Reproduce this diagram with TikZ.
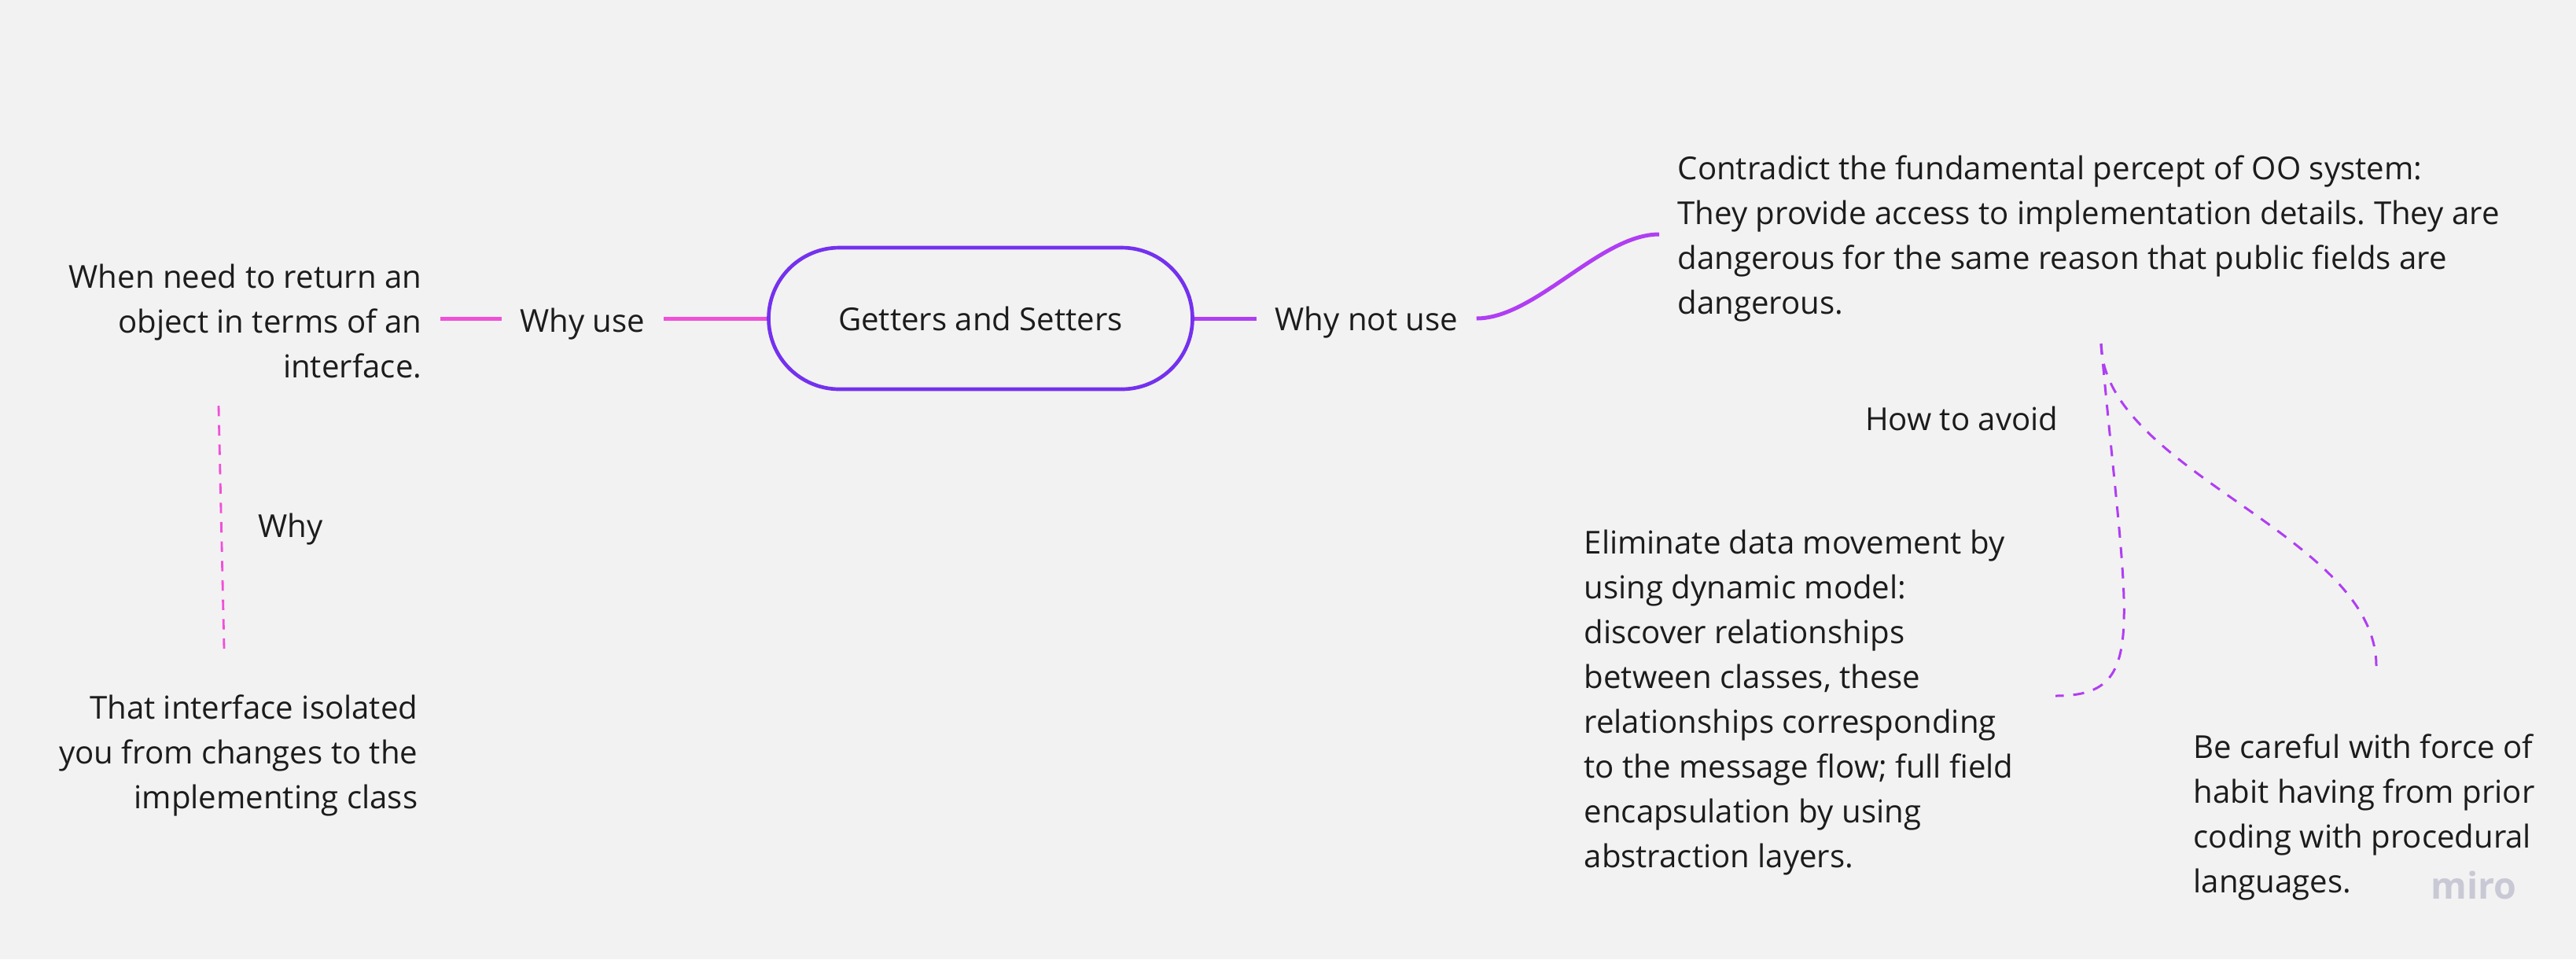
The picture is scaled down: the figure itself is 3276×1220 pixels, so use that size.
\documentclass[tikz,border=0pt]{standalone}
\usepackage{fontspec}
\setmainfont{Open Sans}
\frenchspacing
\definecolor{bg}{HTML}{F2F2F2}
\definecolor{ink}{HTML}{1C1C1C}
\definecolor{capc}{HTML}{7431EE}
\definecolor{pinkc}{HTML}{F050D8}
\definecolor{violc}{HTML}{B03EF2}
\definecolor{miroc}{HTML}{C9C9D6}
\begin{document}
\begin{tikzpicture}[x=0.3pt,y=-0.3pt,
  txt/.style={font=\fontsize{12.05}{17.1}\selectfont, text=ink, inner ysep=0pt, inner xsep=6.9pt},
  capsule/.style={draw=capc, line width=1.4pt, rounded corners=27pt, minimum width=161.7pt, minimum height=54pt, inner sep=0pt, font=\fontsize{12.05}{17.1}\selectfont, text=ink},
  pinkline/.style={draw=pinkc, line width=1.5pt},
  violline/.style={draw=violc, line width=1.5pt},
  pinkdash/.style={draw=pinkc, line width=0.85pt, dash pattern=on 4pt off 3.4pt},
  violdash/.style={draw=violc, line width=0.9pt, dash pattern=on 4.2pt off 3.6pt}]
\fill[bg] (0,0) rectangle (3276,1220);
\useasboundingbox (0,0) rectangle (3276,1220);

\node[capsule] (gs) at (1247,405) {\raisebox{-1.5pt}{Getters and Setters}};

\node[txt, anchor=east] (whyuse) at (844,412) {Why use};
\node[txt, anchor=east, align=right] (ret) at (560,409) {When need to return an\\object in terms of an\\interface.};
\draw[pinkline] (gs.west) -- (gs.west -| whyuse.east);
\draw[pinkline] (gs.west -| whyuse.west) -- (gs.west -| ret.east);

\coordinate (w0) at (278,516);
\coordinate (w1) at (285,825);
\draw[pinkdash] (w0) -- (w1);
\node[txt, anchor=west] (why) at (305,673) {Why};
\node[txt, anchor=east, align=right] (iso) at (555,961) {That interface isolated\\you from changes to the\\implementing class};

\node[txt, anchor=west] (whynot) at (1598,410) {Why not use};
\draw[violline] (gs.east) -- (gs.east -| whynot.west);
\node[txt, anchor=west, align=left] (contra) at (2110,303) {Contradict the fundamental percept of OO system:\\They provide access to implementation details. They are\\dangerous for the same reason that public fields are\\dangerous.};
\draw[violline] (gs.east -| whynot.east) .. controls +(75,0) and +(-75,0) .. ([yshift=1.5pt]contra.west);

\node[txt, anchor=east] (how) at (2641,532) {How to avoid};
\node[txt, anchor=west, align=left] (elim) at (1991,894) {Eliminate data movement by\\using dynamic model:\\discover relationships\\between classes, these\\relationships corresponding\\to the message flow; full field\\encapsulation by using\\abstraction layers.};
\node[txt, anchor=west, align=left] (care) at (2766,1039) {Be careful with force of\\habit having from prior\\coding with procedural\\languages.};

\coordinate (h0) at (2672,437);
\coordinate (h1) at (2614,885);
\coordinate (h2) at (3022,847);
\draw[violdash] (h0) .. controls (2705,800) and (2735,885) .. (h1);
\draw[violdash] (h0) .. controls (2675,600) and (3022,680) .. (h2);

\node[font=\fontsize{14}{16}\selectfont\bfseries, text=miroc, inner sep=0pt] (miro) at (3146,1126) {miro};
\end{tikzpicture}
\end{document}
